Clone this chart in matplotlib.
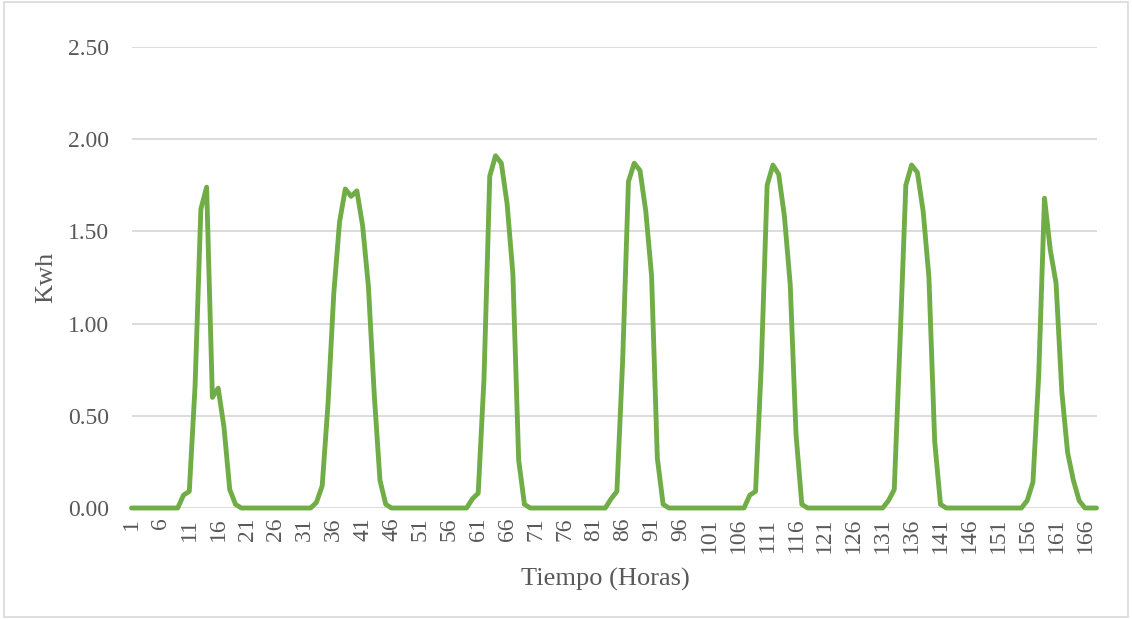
import matplotlib
matplotlib.use("Agg")
import matplotlib.pyplot as plt
from matplotlib.patches import Rectangle

# hourly generation over one week (Kwh)
horas = list(range(1, 169))
energia = [
    0, 0, 0, 0, 0, 0, 0, 0, 0,
    0.07, 0.09, 0.66, 1.62, 1.74, 0.60, 0.65, 0.44, 0.10, 0.02,
    0, 0, 0, 0, 0, 0, 0, 0, 0, 0, 0, 0, 0,
    0.03, 0.12, 0.56, 1.16, 1.55, 1.73, 1.69, 1.72, 1.53, 1.20, 0.62, 0.15, 0.02,
    0, 0, 0, 0, 0, 0, 0, 0, 0, 0, 0, 0, 0, 0,
    0.05, 0.08, 0.70, 1.80, 1.91, 1.87, 1.65, 1.27, 0.26, 0.02,
    0, 0, 0, 0, 0, 0, 0, 0, 0, 0, 0, 0, 0, 0,
    0.05, 0.09, 0.80, 1.77, 1.87, 1.83, 1.61, 1.26, 0.27, 0.02,
    0, 0, 0, 0, 0, 0, 0, 0, 0, 0, 0, 0, 0, 0,
    0.07, 0.09, 0.78, 1.75, 1.86, 1.81, 1.58, 1.21, 0.40, 0.02,
    0, 0, 0, 0, 0, 0, 0, 0, 0, 0, 0, 0, 0, 0,
    0.04, 0.10, 0.90, 1.75, 1.86, 1.82, 1.61, 1.25, 0.36, 0.02,
    0, 0, 0, 0, 0, 0, 0, 0, 0, 0, 0, 0, 0, 0,
    0.04, 0.14, 0.72, 1.68, 1.40, 1.22, 0.63, 0.30, 0.15, 0.04,
    0, 0, 0,
]
ticks_x = horas[::5]
ticks_y = [0, 0.5, 1.0, 1.5, 2.0, 2.5]

plt.rcParams['font.family'] = ['Liberation Serif', 'DejaVu Serif']
gris = '#595959'

fig = plt.figure(figsize=(11.32, 6.19), dpi=100)
ax = fig.add_axes([131.5 / 1132, 111 / 619, 965 / 1132, 461 / 619])

ax.plot(horas, energia, color='#70AD47', linewidth=3.5,
        solid_joinstyle='round', solid_capstyle='round', clip_on=False, zorder=3)

ax.set_xlim(1, 168)
ax.set_ylim(0, 2.5)
ax.set_yticks(ticks_y)
ax.set_yticklabels([f"{v:.2f}" for v in ticks_y])
ax.set_xticks(ticks_x)
ax.set_xticklabels([str(h) for h in ticks_x], rotation=90)

ax.grid(axis='y', color='#D9D9D9', linewidth=1.3)
ax.set_axisbelow(True)
for s in ax.spines.values():
    s.set_visible(False)
ax.tick_params(axis='y', length=0, pad=16, labelsize=17, labelcolor=gris)
ax.tick_params(axis='x', length=0, pad=7, labelsize=17, labelcolor=gris)

ax.set_xlabel("Tiempo (Horas)", fontsize=19, color=gris)
ax.xaxis.set_label_coords(0.4915, -0.131)
ax.set_ylabel("Kwh", fontsize=19, color=gris, labelpad=8)

# chart area border
fig.patches.append(Rectangle((4 / 1132, 2 / 619), 1124 / 1132, 615 / 619,
                             transform=fig.transFigure, fill=False,
                             edgecolor='#D9D9D9', linewidth=1.2))

fig.savefig("out.png", dpi=100)
